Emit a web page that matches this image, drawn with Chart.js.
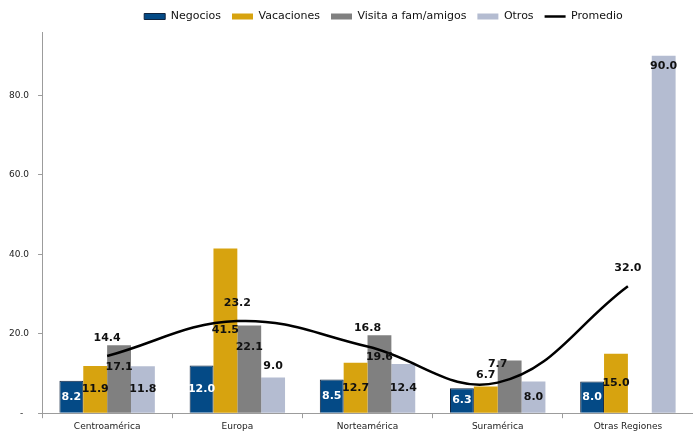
<!DOCTYPE html>
<html>
<head>
<meta charset="utf-8">
<script src="https://cdn.jsdelivr.net/npm/chart.js@4/dist/chart.umd.min.js"></script>
<style>
  html, body { margin: 0; padding: 0; background: #fff; }
</style>
</head>
<body>
<canvas id="chart" width="693" height="435"></canvas>
<script>
const regiones = ['Centroamérica', 'Europa', 'Norteamérica', 'Suramérica', 'Otras Regiones'];
const negocios = [8.2, 12.0, 8.5, 6.3, 8.0];
const vacaciones = [11.9, 41.5, 12.7, 6.7, 15.0];
const visitas = [17.1, 22.1, 19.6, 13.3, null];
const otros = [11.8, 9.0, 12.4, 8.0, 90.0];
const promedio = [14.4, 23.2, 16.8, 7.7, 32.0];
const yTicks = [0, 20, 40, 60, 80];

const axisColor = '#9c9c9c';

// etiquetas de valor (sin chartjs-plugin-datalabels)
const valueLabels = {
  id: 'valueLabels',
  afterDatasetsDraw(chart) {
    const ctx = chart.ctx;
    ctx.save();
    ctx.font = 'bold 11px "DejaVu Sans"';
    ctx.textAlign = 'center';
    ctx.textBaseline = 'middle';
    chart.data.datasets.forEach((ds, i) => {
      const meta = chart.getDatasetMeta(i);
      meta.data.forEach((el, j) => {
        const v = ds.data[j];
        const pos = ds.labelPos[j];
        if (v == null || pos === 'none') return;
        let y;
        if (pos === 'center') y = (el.y + el.base) / 2;
        else if (pos === 'above') y = el.y - 11;
        else if (pos === 'inside') y = el.y + ds.labelInset;
        else y = el.y - 18;
        ctx.fillStyle = ds.labelColor;
        ctx.fillText(v.toFixed(1), el.x, y);
      });
    });
    ctx.restore();
  }
};

// mover la leyenda un poco a la derecha
const legendShift = {
  id: 'legendShift',
  afterLayout(chart) {
    chart.legend.left += 37;
    chart.legend.right += 37;
  }
};

const datasets = [
  {
    label: 'Negocios',
    data: negocios,
    backgroundColor: '#044a86',
    borderColor: '#10243f',
    borderWidth: 1,
    pointStyle: 'rect',
    labelPos: ['center', 'center', 'center', 'center', 'center'],
    labelColor: '#ffffff',
    order: 1
  },
  {
    label: 'Vacaciones',
    data: vacaciones,
    backgroundColor: '#d7a30f',
    borderWidth: 0,
    pointStyle: 'rect',
    labelPos: ['center', 'center', 'center', 'above', 'center'],
    labelColor: '#111111',
    order: 1
  },
  {
    label: 'Visita a fam/amigos',
    data: visitas,
    backgroundColor: '#808080',
    borderWidth: 0,
    pointStyle: 'rect',
    labelPos: ['inside', 'inside', 'inside', 'none', 'none'],
    labelInset: 22,
    labelColor: '#111111',
    order: 1
  },
  {
    label: 'Otros',
    data: otros,
    backgroundColor: '#b4bcd1',
    borderWidth: 0,
    pointStyle: 'rect',
    labelPos: ['center', 'above', 'center', 'center', 'inside'],
    labelInset: 10,
    labelColor: '#111111',
    order: 1
  },
  {
    type: 'line',
    label: 'Promedio',
    data: promedio,
    borderColor: '#000000',
    backgroundColor: '#000000',
    borderWidth: 2.5,
    tension: 0.4,
    pointRadius: 0,
    pointStyle: 'line',
    fill: false,
    labelPos: ['point', 'point', 'point', 'point', 'point'],
    labelColor: '#111111',
    order: 0
  }
];

new Chart(document.getElementById('chart'), {
  type: 'bar',
  data: {
    labels: regiones,
    datasets: datasets
  },
  options: {
    responsive: false,
    animation: false,
    devicePixelRatio: 1,
    layout: {
      padding: { left: 0, right: 0, top: 0, bottom: 0 }
    },
    datasets: {
      bar: {
        categoryPercentage: 0.733,
        barPercentage: 1
      }
    },
    plugins: {
      legend: {
        position: 'top',
        labels: {
          font: { family: 'DejaVu Sans', size: 11 },
          color: '#111',
          usePointStyle: true,
          pointStyleWidth: 21,
          boxHeight: 6,
          padding: 11,
          sort: (a, b) => a.datasetIndex - b.datasetIndex
        }
      },
      tooltip: { enabled: false }
    },
    scales: {
      x: {
        grid: {
          display: true,
          drawOnChartArea: false,
          tickLength: 5,
          color: axisColor
        },
        border: { color: axisColor },
        ticks: {
          font: { family: 'DejaVu Sans', size: 9 },
          color: '#222',
          padding: 3,
          maxRotation: 0
        }
      },
      y: {
        min: 0,
        max: 96,
        afterBuildTicks: scale => {
          scale.ticks = yTicks.map(v => ({ value: v }));
        },
        grid: {
          display: true,
          drawOnChartArea: false,
          tickLength: 4,
          color: axisColor
        },
        border: { color: axisColor },
        ticks: {
          font: { family: 'DejaVu Sans', size: 9 },
          color: '#222',
          padding: 9,
          callback: v => v === 0 ? '-  ' : v.toFixed(1)
        }
      }
    }
  },
  plugins: [valueLabels, legendShift]
});
</script>
</body>
</html>
